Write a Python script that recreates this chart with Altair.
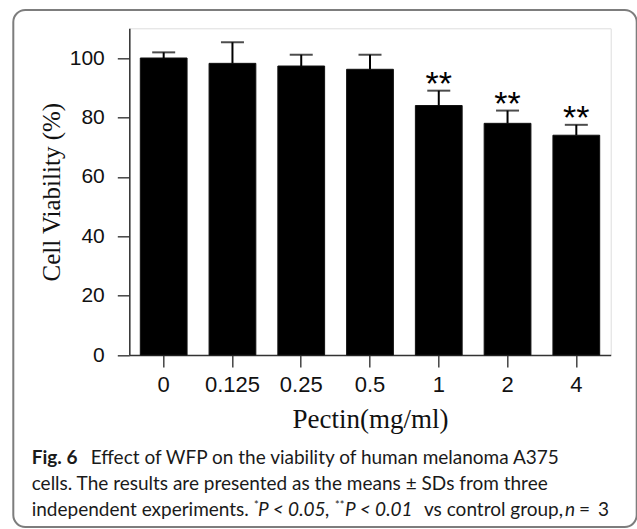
import altair as alt
import pandas as pd

# ---- data ----
doses = ["0", "0.125", "0.25", "0.5", "1", "2", "4"]
viability = [100.0, 98.2, 97.3, 96.2, 84.0, 78.0, 74.0]
sd = [1.9, 7.1, 3.8, 4.9, 5.0, 4.3, 3.5]
signif = ["", "", "", "", "**", "**", "**"]

y_title = "Cell Viability (%)"
x_title = "Pectin(mg/ml)"
cap_bold = "Fig. 6"
cap_line1 = "Effect of WFP on the viability of human melanoma A375"
cap_line2 = "cells. The results are presented as the means \u00b1 SDs from three"
cap_line3 = ["independent experiments.", "*", "P < 0.05,", "**", "P < 0.01",
             "vs control group,", "n", "=", "3"]

df = pd.DataFrame({
    "dose": doses,
    "v": viability,
    "up": [a + b for a, b in zip(viability, sd)],
    "sig": signif,
})

# plot-area geometry (pixels)
W, H = 481.4, 326.7
LEFT, TOP = 129.3, 28.3

xenc = alt.X("dose:N", sort=doses, title=x_title,
             scale=alt.Scale(paddingInner=0.32, paddingOuter=0.16),
             axis=alt.Axis(labelAngle=0, labelFont="Liberation Sans", labelFontSize=22,
                           labelColor="#111", labelPadding=7, tickSize=12,
                           tickColor="#444", tickWidth=1.5, domainColor="#333",
                           domainWidth=1.5, titleFont="Liberation Serif",
                           titleFontSize=27, titleFontWeight="normal",
                           titleColor="#111", titlePadding=11))
yscale = alt.Scale(domain=[0, 110], nice=False)

bars = alt.Chart(df).mark_bar(color="black", stroke="#111", strokeWidth=1).encode(
    x=xenc,
    y=alt.Y("v:Q", scale=yscale, title=y_title,
            axis=alt.Axis(values=[0, 20, 40, 60, 80, 100], grid=False,
                          labelFont="Liberation Sans", labelFontSize=21,
                          labelColor="#111", labelPadding=13, tickSize=12,
                          tickColor="#444", tickWidth=1.5, domainColor="#333",
                          domainWidth=1.5, titleFont="Liberation Serif",
                          titleFontSize=25, titleFontWeight="normal",
                          titleColor="#111", titlePadding=5)),
)

err = alt.Chart(df).mark_rule(color="black", strokeWidth=2).encode(
    x=alt.X("dose:N", sort=doses),
    y=alt.Y("v:Q", scale=yscale),
    y2="up:Q",
)
caps = alt.Chart(df).mark_tick(color="black", thickness=2, size=23, orient="horizontal").encode(
    x=alt.X("dose:N", sort=doses),
    y=alt.Y("up:Q", scale=yscale),
)
stars = alt.Chart(df).mark_text(font="Liberation Sans", fontSize=34, color="black",
                                baseline="alphabetic", dy=4).encode(
    x=alt.X("dose:N", sort=doses),
    y=alt.Y("up:Q", scale=yscale),
    text="sig:N",
)

one = alt.Data(values=[{"k": 1}])

frame = alt.Chart(one).mark_rect(fill="white", fillOpacity=0, stroke="#7d7d7d",
                                 strokeWidth=2, cornerRadius=12).encode(
    x=alt.value(13.3 - LEFT), x2=alt.value(636.7 - LEFT),
    y=alt.value(10 - TOP), y2=alt.value(527 - TOP),
)

CAP_FONT = "Lato"
CAP_SIZE = 19


def ctext(txt, xpos, ybase, weight="normal", style="normal", size=CAP_SIZE):
    return alt.Chart(one).mark_text(
        text=txt, font=CAP_FONT, fontSize=size, fontWeight=weight,
        fontStyle=style, align="left", baseline="alphabetic", color="#1a1a1a",
    ).encode(x=alt.value(xpos - LEFT), y=alt.value(ybase - TOP))


b1, b2, b3 = 464.3, 490.0, 515.5
captions = [
    ctext(cap_bold, 31.7, b1, weight="bold"),
    ctext(cap_line1, 90.7, b1),
    ctext(cap_line2, 31.7, b2),
    ctext(cap_line3[0], 31.7, b3),
    ctext(cap_line3[1], 254, b3 - 7, size=11),
    ctext(cap_line3[2], 258, b3, style="italic"),
    ctext(cap_line3[3], 335, b3 - 7, size=11),
    ctext(cap_line3[4], 345, b3, style="italic"),
    ctext(cap_line3[5], 424, b3),
    ctext(cap_line3[6], 565, b3, style="italic"),
    ctext(cap_line3[7], 579, b3),
    ctext(cap_line3[8], 598, b3),
]

chart = alt.layer(frame, bars, err, caps, stars, *captions).properties(
    width=W, height=H,
    padding={"left": LEFT, "top": TOP, "right": 637 - LEFT - W, "bottom": 529 - TOP - H},
    autosize="none",
).configure_view(stroke=None).configure(background="white")

chart.save("out.html", embed_options={"renderer": "svg", "actions": False})
